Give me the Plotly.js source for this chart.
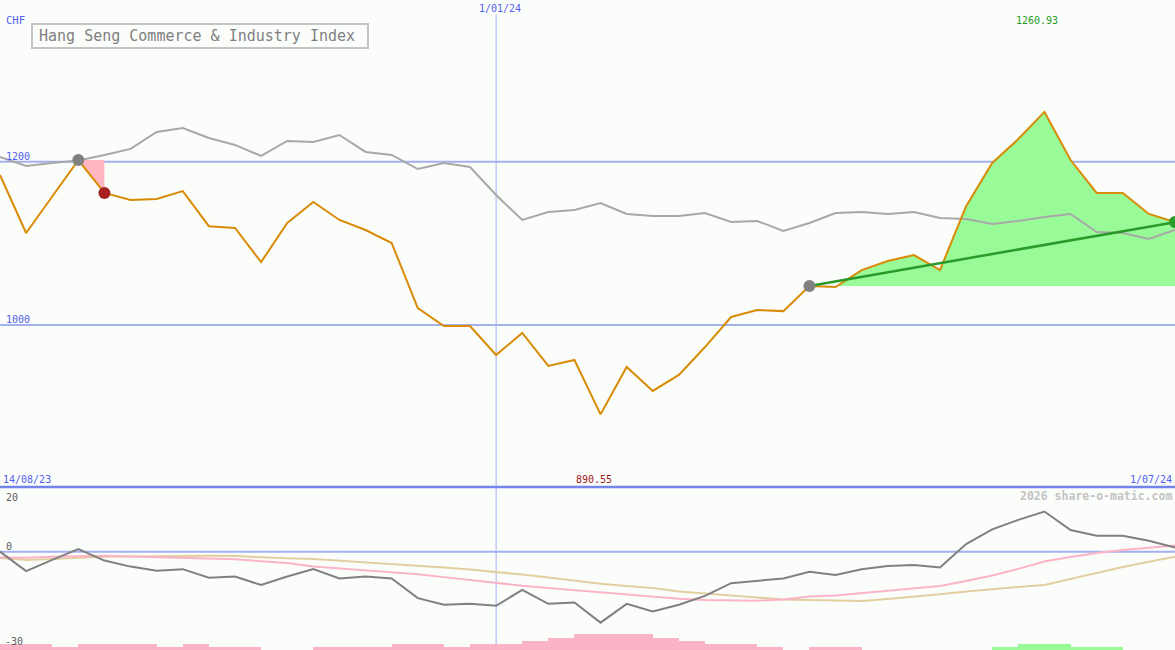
<!DOCTYPE html>
<html>
<head>
<meta charset="utf-8">
<script src="https://cdn.plot.ly/plotly-3.0.1.min.js"></script>
<style>html,body{margin:0;padding:0;background:#fbfdfb;}#chart{width:1175px;height:650px;}</style>
</head>
<body>
<div id="chart"></div>
<script>
// ---- data (weekly) ----
const dates = ["2023-08-21","2023-08-28","2023-09-04","2023-09-11","2023-09-18","2023-09-25","2023-10-02","2023-10-09","2023-10-16","2023-10-23","2023-10-30","2023-11-06","2023-11-13","2023-11-20","2023-11-27","2023-12-04","2023-12-11","2023-12-18","2023-12-25","2024-01-01","2024-01-08","2024-01-15","2024-01-22","2024-01-29","2024-02-05","2024-02-12","2024-02-19","2024-02-26","2024-03-04","2024-03-11","2024-03-18","2024-03-25","2024-04-01","2024-04-08","2024-04-15","2024-04-22","2024-04-29","2024-05-06","2024-05-13","2024-05-20","2024-05-27","2024-06-03","2024-06-10","2024-06-17","2024-06-24","2024-07-01"];
const closePrice = [1183.7,1112.7,1157.4,1202,1161.7,1153,1154.3,1164,1121,1118.8,1077,1125,1150.6,1128.6,1116.3,1100.4,1020.8,998.8,998.8,963.2,990.2,949.8,957.1,890.55,948.6,919.2,938.8,973,1009.8,1018.4,1017,1047.8,1046.5,1067.3,1078.4,1085.7,1067.3,1145.5,1198.4,1227.8,1260.93,1202,1161.7,1161.7,1136,1126];
const comparison = [1205.8,1194.7,1198.4,1201.5,1208.2,1215.6,1236.4,1241.3,1229,1220.5,1207,1225.4,1224.1,1232.7,1211.9,1208.2,1191,1198.4,1193.5,1159.2,1128.6,1138.4,1140.8,1149.4,1135.9,1133.5,1133.5,1137.2,1126.1,1127.4,1115.1,1124.9,1137.2,1138.4,1135.9,1138.4,1131,1129.8,1123.7,1127.4,1132.3,1135.9,1113.9,1112.7,1105.3,1116.3];
const momentum = [0,-6.1,-2.6,0.8,-2.8,-4.7,-6.0,-5.5,-8.2,-7.8,-10.5,-7.8,-5.5,-8.4,-7.8,-8.4,-14.6,-16.7,-16.4,-17.0,-12.0,-16.4,-16.0,-22.3,-16.4,-18.8,-16.7,-13.9,-9.9,-9.1,-8.4,-6.3,-7.3,-5.5,-4.5,-4.2,-5.0,2.4,7.0,10.0,12.6,6.8,5.0,5.0,3.4,1.3];
const avgFast = [-1.8,-1.9,-1.6,-1.4,-1.3,-1.5,-1.7,-1.9,-2.2,-2.4,-3.0,-3.6,-4.7,-5.3,-5.9,-6.4,-7.1,-8.0,-8.9,-10.0,-10.7,-11.4,-12.1,-12.9,-13.6,-14.2,-14.8,-15.2,-15.4,-15.4,-15.0,-14.1,-13.8,-13.0,-12.2,-11.5,-10.8,-9.2,-7.5,-5.4,-3.1,-1.7,-0.4,0.5,1.2,1.9];
const avgSlow = [-2.0,-2.6,-2.3,-1.9,-1.6,-1.5,-1.4,-1.3,-1.3,-1.4,-1.8,-2.1,-2.3,-2.8,-3.3,-4.0,-4.5,-5.0,-5.6,-6.3,-7.2,-8.1,-9.1,-10.1,-10.8,-11.4,-12.5,-13.1,-13.9,-14.5,-15.0,-15.2,-15.4,-15.5,-14.9,-14.2,-13.4,-12.5,-11.7,-11.1,-10.5,-8.6,-6.7,-4.8,-3.2,-1.6];
// weekly histogram levels (negative = pink, positive = green), one per interval
const histLevels = [-2,-2,-1,-2,-2,-2,-1,-2,-1,-1,0,0,-1,-1,-1,-2,-2,-1,-2,-2,-3,-4,-5,-5,-5,-4,-3,-2,-2,-1,0,-1,-1,0,0,0,0,0,1,2,2,1,1,0,0];
const lossStart = 3, lossEnd = 4;     // pink highlighted drop
const trendStart = 31, trendEnd = 45; // green trend segment
const currency = "CHF";
const titleText = "Hang Seng Commerce & Industry Index";
const startLabel = "14/08/23", midLabel = "1/01/24", endLabel = "1/07/24";
const gridLevels = [1200, 1000];
const lowerLabels = ["20", "0", "-30"];

// ---- styles ----
const BG = "#fbfdfb";
const MONO = "DejaVu Sans Mono, monospace";
const BLUE_TXT = "#5060f0";
const GRID = "#a3b1ef";

const maxV = Math.max(...closePrice), minV = Math.min(...closePrice);
const iMax = closePrice.indexOf(maxV), iMin = closePrice.indexOf(minV);

const traces = [];
// pink loss fill
traces.push({x: dates.slice(lossStart, lossEnd+1), y: dates.slice(lossStart, lossEnd+1).map(()=>closePrice[lossStart]),
  mode:'lines', line:{width:0}, hoverinfo:'skip', xaxis:'x', yaxis:'y'});
traces.push({x: dates.slice(lossStart, lossEnd+1), y: closePrice.slice(lossStart, lossEnd+1),
  mode:'lines', line:{width:0}, fill:'tonexty', fillcolor:'#ffb6c1', hoverinfo:'skip', xaxis:'x', yaxis:'y'});
// green gain fill
traces.push({x: dates.slice(trendStart, trendEnd+1), y: dates.slice(trendStart, trendEnd+1).map(()=>closePrice[trendStart]),
  mode:'lines', line:{width:0}, hoverinfo:'skip', xaxis:'x', yaxis:'y'});
traces.push({x: dates.slice(trendStart, trendEnd+1), y: closePrice.slice(trendStart, trendEnd+1),
  mode:'lines', line:{width:0}, fill:'tonexty', fillcolor:'#98fb98', hoverinfo:'skip', xaxis:'x', yaxis:'y'});
// comparison line
traces.push({x: dates, y: comparison, mode:'lines', line:{color:'#a8a8a8', width:2}, xaxis:'x', yaxis:'y'});
// price line
traces.push({x: dates, y: closePrice, mode:'lines', line:{color:'#d98b06', width:2}, xaxis:'x', yaxis:'y'});
// trend line
traces.push({x: [dates[trendStart], dates[trendEnd]], y: [closePrice[trendStart], closePrice[trendEnd]],
  mode:'lines', line:{color:'#2a9a2a', width:2.5}, xaxis:'x', yaxis:'y'});
// markers
traces.push({x: [dates[lossStart], dates[trendStart]], y: [closePrice[lossStart], closePrice[trendStart]], mode:'markers',
  marker:{color:'#808080', size:12}, xaxis:'x', yaxis:'y'});
traces.push({x: [dates[lossEnd]], y: [closePrice[lossEnd]], mode:'markers', marker:{color:'#a82020', size:12}, xaxis:'x', yaxis:'y'});
traces.push({x: [dates[trendEnd]], y: [closePrice[trendEnd]], mode:'markers', marker:{color:'#2a9a2a', size:12}, xaxis:'x', yaxis:'y'});

// lower panel histogram
traces.push({type:'bar', x: dates.slice(0, histLevels.length), y: histLevels.map(Math.abs),
  offset: 0, width: 7*24*3600*1000,
  marker:{color: histLevels.map(v => v < 0 ? '#fbb4c7' : '#98fb98'), line:{width:0}},
  xaxis:'x', yaxis:'y3', hoverinfo:'skip'});
// lower lines
traces.push({x: dates, y: avgSlow, mode:'lines', line:{color:'#e2cfa0', width:2}, xaxis:'x', yaxis:'y2'});
traces.push({x: dates, y: avgFast, mode:'lines', line:{color:'#fbb4c7', width:2}, xaxis:'x', yaxis:'y2'});
traces.push({x: dates, y: momentum, mode:'lines', line:{color:'#808080', width:2}, xaxis:'x', yaxis:'y2'});

const W = 1175, H = 650;
const px = v => v / W, py = v => 1 - v / H;

const shapes = [];
gridLevels.forEach(g => shapes.push({type:'line', xref:'paper', x0:0, x1:1, yref:'y', y0:g, y1:g, line:{color:GRID, width:2}, layer:'below'}));
shapes.push({type:'line', xref:'paper', x0:0, x1:1, yref:'y2', y0:0, y1:0, line:{color:GRID, width:2}, layer:'below'});
shapes.push({type:'line', xref:'x', x0:'2024-01-01', x1:'2024-01-01', yref:'paper', y0:0, y1:py(15), line:{color:GRID, width:1}, layer:'below'});
shapes.push({type:'line', xref:'paper', x0:0, x1:1, yref:'paper', y0:py(487), y1:py(487), line:{color:'#7385ea', width:2.5}, layer:'above'});
shapes.push({type:'rect', xref:'paper', yref:'paper', x0:px(32), x1:px(368), y0:py(48), y1:py(24), line:{color:'#c4c4c4', width:2}, fillcolor:'rgba(0,0,0,0)'});

function ann(text, x, y, xanchor, color, size, extra) {
  return Object.assign({text:text, xref:'paper', yref:'paper', x:x, y:y, xanchor:xanchor, yanchor:'middle',
    showarrow:false, font:{family:MONO, size:size, color:color}, borderpad:0}, extra||{});
}
const annotations = [
  ann(currency, px(5), py(20), 'left', BLUE_TXT, 10.5),
  ann(titleText, px(38), py(36), 'left', '#808080', 15),
  ann(String(gridLevels[0]), px(5), py(156), 'left', BLUE_TXT, 10),
  ann(String(gridLevels[1]), px(5), py(319), 'left', BLUE_TXT, 10),
  ann(midLabel, px(500), py(9), 'center', BLUE_TXT, 10),
  ann(startLabel, px(2), py(479), 'left', BLUE_TXT, 10),
  ann(endLabel, px(1173), py(479), 'right', BLUE_TXT, 10),
  {text: maxV.toFixed(2), xref:'x', yref:'paper', x: dates[iMax], xshift:-7, y: py(21), xanchor:'center', yanchor:'middle',
    showarrow:false, font:{family:MONO, size:10, color:'#1f9a1f'}},
  {text: minV.toFixed(2), xref:'x', yref:'paper', x: dates[iMin], xshift:-7, y: py(479), xanchor:'center', yanchor:'middle',
    showarrow:false, font:{family:MONO, size:10, color:'#a01818'}},
  ann('<b>2026 share-o-matic.com</b>', px(1173), py(496), 'right', '#c4c4c4', 11.5),
  ann(lowerLabels[0], px(5), py(497), 'left', '#606060', 10),
  ann(lowerLabels[1], px(5), py(546), 'left', '#606060', 10),
  ann(lowerLabels[2], px(4), py(641), 'left', '#606060', 10)
];

const layout = {
  width: W, height: H, margin:{l:0, r:0, t:0, b:0, pad:0},
  paper_bgcolor: BG, plot_bgcolor: BG, showlegend:false,
  xaxis:{type:'date', range:[dates[0], dates[dates.length-1]], visible:false, fixedrange:true},
  yaxis:{domain:[py(487), 1], range:[801.6, 1398], visible:false, fixedrange:true},
  yaxis2:{domain:[0, py(488)], range:[-30.9, 20], visible:false, fixedrange:true},
  yaxis3:{overlaying:'y2', range:[0, 52], visible:false, fixedrange:true},
  bargap:0,
  shapes: shapes, annotations: annotations
};
Plotly.newPlot('chart', traces, layout, {staticPlot:true, displayModeBar:false});
</script>
</body>
</html>
